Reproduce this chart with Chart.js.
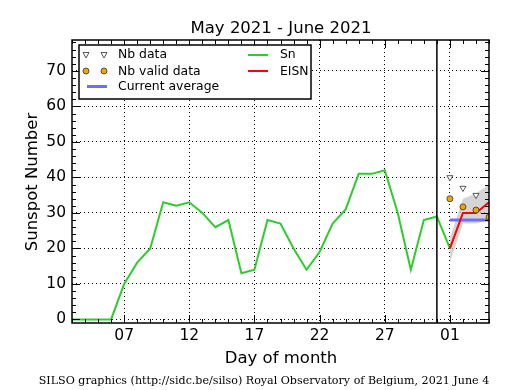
<!DOCTYPE html>
<html>
<head>
<meta charset="utf-8">
<script src="https://cdn.jsdelivr.net/npm/chart.js@4.4.0/dist/chart.umd.min.js"></script>
<style>
  html, body { margin:0; padding:0; background:#fff; }
  #wrap { width:515px; height:390px; }
</style>
</head>
<body>
<div id="wrap"><canvas id="chart" width="515" height="390"></canvas></div>
<script>
// day labels, May 3 -> June 4
const days = ['03','04','05','06','07','08','09','10','11','12','13','14','15','16','17','18','19','20',
              '21','22','23','24','25','26','27','28','29','30','31','01','02','03','04'];
const shownDays = ['07','12','17','22','27','01'];
const yTicks = [0,10,20,30,40,50,60,70];

// daily Sn, May 3 -> June 1
const snValues = [0,0,0,0,10,16,20,33,32,33,30,26,28,13,14,28,27,20,14,19,27,31,41,41,42,30,14,28,29,20];
// June 1 -> June 4
const eisnValues = [20,30,30,33];
const eisnUpper  = [23,34,35.5,38];
const eisnLower  = [16,27,27,28];
const nbData     = [40,37,35,null];
const nbValid    = [34,31.7,30.8,28.8];
const currentAvg = [28,28,28,28];

const lineMarkDay = 28; // index of May 31
const FONT = 'DejaVu Sans';

const pad = days.slice(0, days.length - eisnValues.length).map(() => null);
const june = arr => pad.concat(arr);

const framePlugin = {
  id: 'frame',
  afterDraw(chart) {
    const ctx = chart.ctx;
    const a = chart.chartArea;
    const xs = chart.scales.x, ys = chart.scales.y;
    ctx.save();
    // vertical marker at end of month
    const vx = xs.getPixelForValue(lineMarkDay);
    ctx.strokeStyle = '#000';
    ctx.lineWidth = 1.5;
    ctx.beginPath(); ctx.moveTo(vx, a.top); ctx.lineTo(vx, a.bottom); ctx.stroke();

    // tick marks inside the frame
    ctx.lineWidth = 1;
    ctx.beginPath();
    for (let v = 0; v <= ys.max; v += 2) {
      const y = Math.round(ys.getPixelForValue(v)) + 0.5;
      const len = v % 10 === 0 ? 8 : 4;
      ctx.moveTo(a.left, y); ctx.lineTo(a.left + len, y);
      ctx.moveTo(a.right, y); ctx.lineTo(a.right - len, y);
    }
    days.forEach((d, i) => {
      const x = Math.round(xs.getPixelForValue(i)) + 0.5;
      const len = shownDays.includes(d) ? 8 : 4;
      ctx.moveTo(x, a.bottom); ctx.lineTo(x, a.bottom - len);
      ctx.moveTo(x, a.top); ctx.lineTo(x, a.top + len);
    });
    ctx.stroke();

    ctx.lineWidth = 1.5;
    ctx.strokeRect(a.left, a.top, a.right - a.left, a.bottom - a.top);

    // titles
    ctx.fillStyle = '#000';
    ctx.textAlign = 'center';
    ctx.textBaseline = 'alphabetic';
    ctx.font = '16.5px "' + FONT + '"';
    ctx.fillText('May 2021 - June 2021', 281, 33);
    ctx.fillText('Day of month', 281, 363);
    ctx.save();
    ctx.translate(37, 182);
    ctx.rotate(-Math.PI / 2);
    ctx.fillText('Sunspot Number', 0, 0);
    ctx.restore();
    ctx.font = '11.1px "DejaVu Serif"';
    ctx.fillText('SILSO graphics (http://sidc.be/silso) Royal Observatory of Belgium, 2021 June 4', 264, 384);

    // legend
    ctx.fillStyle = '#fff';
    ctx.fillRect(79, 45, 232, 54);
    ctx.lineWidth = 1.5;
    ctx.strokeStyle = '#000';
    ctx.strokeRect(79, 45, 232, 54);
    const tri = (x, y) => {
      ctx.beginPath();
      ctx.moveTo(x - 3, y - 2.5); ctx.lineTo(x + 3, y - 2.5); ctx.lineTo(x, y + 3); ctx.closePath();
      ctx.fillStyle = '#fff'; ctx.fill();
      ctx.strokeStyle = '#555'; ctx.lineWidth = 1; ctx.stroke();
    };
    const dot = (x, y) => {
      ctx.beginPath(); ctx.arc(x, y, 3, 0, Math.PI * 2);
      ctx.fillStyle = '#f5a300'; ctx.fill();
      ctx.strokeStyle = '#333'; ctx.lineWidth = 0.8; ctx.stroke();
    };
    const seg = (x1, x2, y, c, w) => {
      ctx.beginPath(); ctx.moveTo(x1, y); ctx.lineTo(x2, y);
      ctx.strokeStyle = c; ctx.lineWidth = w; ctx.stroke();
    };
    tri(86, 55); tri(104, 55);
    dot(86, 71); dot(104, 71);
    seg(87, 107, 86.5, '#6f6fff', 3);
    seg(248, 268, 55, '#2fcc2f', 2);
    seg(248, 268, 71, '#ff0000', 2);
    ctx.fillStyle = '#000';
    ctx.textAlign = 'left';
    ctx.textBaseline = 'middle';
    ctx.font = '12.4px "' + FONT + '"';
    ctx.fillText('Nb data', 118, 55);
    ctx.fillText('Nb valid data', 118, 71.5);
    ctx.fillText('Current average', 118, 86.5);
    ctx.fillText('Sn', 280, 55);
    ctx.fillText('EISN', 280, 71.5);
    ctx.restore();
  }
};

new Chart(document.getElementById('chart'), {
  type: 'line',
  data: {
    labels: days,
    datasets: [
      { label: 'Nb data', data: june(nbData), showLine: false, pointStyle: 'triangle', rotation: 180,
        pointRadius: 3.5, pointBackgroundColor: '#fff', pointBorderColor: '#555', pointBorderWidth: 1, clip: 0 },
      { label: 'Nb valid data', data: june(nbValid), showLine: false, pointRadius: 3,
        pointBackgroundColor: '#f5a300', pointBorderColor: '#333', pointBorderWidth: 0.8, clip: 0 },
      { label: 'EISN', data: june(eisnValues), borderColor: '#ff0000', borderWidth: 2, pointRadius: 0, clip: 0 },
      { label: 'Current average', data: june(currentAvg), borderColor: '#6f6fff', borderWidth: 3, pointRadius: 0, clip: 0 },
      { label: 'Sn', data: snValues, borderColor: '#2fcc2f', borderWidth: 2, pointRadius: 0, clip: 0 },
      { label: 'upper', data: june(eisnUpper), borderWidth: 0, pointRadius: 0, fill: '+1',
        backgroundColor: 'rgba(195,195,195,0.7)', clip: 0 },
      { label: 'lower', data: june(eisnLower), borderWidth: 0, pointRadius: 0, clip: 0 }
    ]
  },
  options: {
    responsive: false,
    animation: false,
    devicePixelRatio: 1,
    layout: { padding: { top: 40, right: 26, left: 0, bottom: 0 } },
    plugins: {
      legend: { display: false },
      tooltip: { enabled: false },
      filler: { drawTime: 'beforeDatasetsDraw' }
    },
    scales: {
      x: {
        type: 'category',
        offset: false,
        afterFit(s) { s.height = 67; },
        grid: {
          drawTicks: false,
          color: c => shownDays.includes(days[c.index]) ? '#000' : 'rgba(0,0,0,0)',
          lineWidth: 1
        },
        border: { display: false, dash: [1, 3] },
        ticks: {
          autoSkip: false, maxRotation: 0, padding: 4, color: '#000',
          font: { family: FONT, size: 15.5 },
          callback(v) { const l = this.getLabelForValue(v); return shownDays.includes(l) ? l : ''; }
        }
      },
      y: {
        min: -1,
        max: 78.7,
        afterFit(s) { s.width = 72; },
        afterBuildTicks(s) { s.ticks = yTicks.map(v => ({ value: v })); },
        grid: { drawTicks: false, color: '#000', lineWidth: 1 },
        border: { display: false, dash: [1, 3] },
        ticks: { padding: 6, color: '#000', font: { family: FONT, size: 15.5 } }
      }
    }
  },
  plugins: [framePlugin]
});
</script>
</body>
</html>
